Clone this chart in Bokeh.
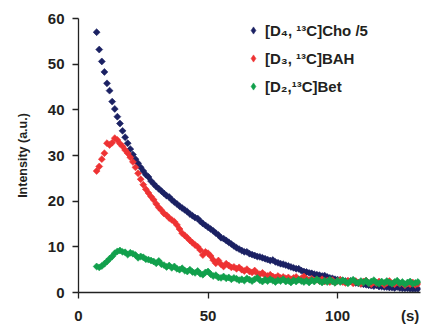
from bokeh.plotting import figure
from bokeh.models import Range1d, FixedTicker, Legend, LegendItem, LinearAxis, Title
from bokeh.embed import file_html
from bokeh.resources import INLINE
import math

# ---- data ----
time_s = list(range(7, 132))

cho_div5 = [
    57.0, 53.2, 50.6, 48.3, 45.8, 44.2, 41.8, 40.2, 38.5, 37.0,
    35.4, 34.0, 32.7, 31.4, 30.2, 29.2, 28.3, 27.4, 26.6, 25.8,
    25.3, 24.4, 23.8, 23.2, 22.7, 22.2, 21.7, 21.2, 20.9, 20.3,
    19.8, 19.4, 18.9, 18.5, 18.1, 17.7, 17.2, 16.8, 16.4, 16.2,
    15.6, 15.1, 14.7, 14.3, 13.9, 13.5, 13.0, 12.6, 12.0, 11.8,
    11.4, 11.0, 10.6, 10.2, 9.8, 9.5, 9.2, 8.9, 8.9, 8.5,
    8.3, 8.1, 7.9, 7.8, 7.6, 7.4, 7.2, 7.0, 7.1, 6.7,
    6.5, 6.3, 6.2, 6.0, 5.8, 5.6, 5.4, 5.2, 5.2, 4.8,
    4.6, 4.5, 4.3, 4.2, 4.0, 3.9, 3.8, 3.6, 3.7, 3.4,
    3.2, 3.1, 2.9, 2.8, 2.7, 2.6, 2.5, 2.4, 2.5, 2.2,
    2.1, 2.0, 1.9, 1.8, 1.7, 1.6, 1.5, 1.4, 1.6, 1.3,
    1.3, 1.2, 1.2, 1.1, 1.1, 1.0, 1.2, 1.0, 0.9, 0.9,
    0.9, 0.8, 0.8, 0.8, 0.8,
]

bah = [
    26.6, 27.6, 29.2, 30.5, 32.7, 32.3, 32.8, 33.8, 33.4, 32.6,
    32.0, 31.2, 30.5, 29.6, 28.6, 27.4, 26.1, 24.8, 23.6, 22.6,
    21.8, 21.0, 20.3, 19.4, 18.6, 18.0, 17.3, 16.9, 16.3, 15.9,
    15.5, 14.8, 13.9, 13.0, 12.5, 12.0, 11.4, 10.9, 10.4, 10.0,
    9.3, 8.2, 8.9, 8.6, 8.0, 7.1, 6.4, 7.0, 6.2, 5.7,
    6.3, 5.9, 5.5, 5.6, 5.2, 5.5, 5.0, 4.7, 5.1, 4.6,
    4.4, 4.8, 4.2, 4.0, 4.3, 3.8, 3.6, 3.9, 3.5, 3.3,
    3.6, 3.2, 3.4, 3.1, 3.3, 2.9, 3.2, 3.4, 2.9, 3.1,
    3.5, 3.0, 2.7, 3.0, 2.6, 2.8, 2.5, 2.9, 2.4, 2.6,
    2.3, 2.7, 2.2, 2.5, 2.8, 2.3, 2.1, 2.6, 2.4, 2.0,
    2.5, 2.2, 1.9, 2.4, 2.6, 2.1, 1.8, 2.3, 2.0, 2.4,
    2.2, 1.7, 2.1, 2.5, 2.0, 1.8, 2.3, 1.9, 2.1, 1.6,
    2.0, 1.8, 2.2, 1.7, 1.9,
]

bet = [
    5.7, 5.5, 5.8, 6.3, 6.8, 7.4, 7.9, 8.6, 9.0, 9.2,
    8.9, 8.8, 8.3, 8.7, 8.5, 8.2, 7.6, 7.9, 7.7, 7.3,
    7.2, 7.0, 6.8, 6.4, 6.9, 6.2, 6.0, 5.6, 5.9, 5.4,
    5.7, 5.2, 5.0, 5.3, 4.8, 4.6, 5.0, 4.5, 4.3, 4.7,
    4.1, 3.9, 4.4, 4.6, 4.0, 3.6, 3.8, 3.3, 3.2, 3.5,
    3.1, 3.3, 2.9, 3.2, 3.0, 2.7, 2.9, 2.6, 3.1, 2.8,
    2.5, 2.9, 3.2, 2.7, 2.4, 2.8, 2.5, 2.9, 2.6, 2.3,
    2.7, 2.5, 2.9, 2.4, 2.6, 2.2, 2.7, 2.4, 2.8, 2.5,
    2.3, 2.6, 2.2, 2.7, 2.4, 2.9, 2.5, 2.2, 2.6, 2.3,
    2.8, 2.4, 2.1, 2.6, 2.3, 2.7, 2.4, 2.0, 2.5, 2.8,
    2.3, 2.1, 2.5, 2.2, 2.6, 2.0, 2.4, 2.7, 2.2, 1.9,
    2.4, 2.1, 2.5, 2.2, 1.9, 2.3, 2.6, 2.0, 2.3, 1.8,
    2.2, 2.4, 1.9, 2.1, 2.3,
]

series_labels = ["[D\u2084, \u00b9\u00b3C]Cho /5", "[D\u2083, \u00b9\u00b3C]BAH", "[D\u2082,\u00b9\u00b3C]Bet"]
series_colors = ["#1b2163", "#ee3233", "#11a04c"]

x_ticks = [0, 50, 100]
x_unit_pos = 128
x_unit = "(s)"
y_ticks = [0, 10, 20, 30, 40, 50, 60]
y_title = "Intensity (a.u.)"

FONT = "Liberation Sans"
TXT = "#231f20"

p = figure(width=422, height=327, output_backend="svg", toolbar_location=None,
           x_range=Range1d(0, 132), y_range=Range1d(0, 60), x_axis_location=None,
           min_border_left=78, min_border_right=2, min_border_top=18, min_border_bottom=35)
p.outline_line_color = None
p.xgrid.visible = False
p.ygrid.visible = False
p.background_fill_color = "white"
p.border_fill_color = "white"


def style(ax):
    ax.axis_line_color = "#222222"
    ax.axis_line_width = 1.3
    ax.major_tick_line_color = "#222222"
    ax.major_tick_line_width = 1.3
    ax.major_tick_in = 0
    ax.major_tick_out = 6
    ax.minor_tick_line_color = None
    ax.major_label_text_font = FONT
    ax.major_label_text_font_style = "bold"
    ax.major_label_text_font_size = "15px"
    ax.major_label_text_color = TXT


# x axis: line, ticks and numeric labels
xa = LinearAxis(ticker=FixedTicker(ticks=x_ticks))
style(xa)
xa.major_label_standoff = 12
p.add_layout(xa, "below")

# unit label "(s)" on the same row, with no line or tick of its own
xl = LinearAxis(ticker=FixedTicker(ticks=[x_unit_pos]),
                major_label_overrides={x_unit_pos: x_unit})
style(xl)
xl.axis_line_color = None
xl.major_tick_line_color = None
xl.major_tick_out = 0
xl.major_label_standoff = -17
p.add_layout(xl, "below")

style(p.yaxis[0])
p.yaxis.ticker = FixedTicker(ticks=y_ticks)
p.yaxis.major_label_standoff = 8

legend_items = []
for vals, col, lab in zip([cho_div5, bah, bet], series_colors, series_labels):
    p.scatter(time_s, vals, marker="square", angle=math.pi / 4, size=4.9,
              fill_color=col, line_color=col, line_width=0.6)
    # hidden key renderer (first point only) that gives the legend a diamond key
    key = p.scatter(time_s[:1], vals[:1], marker="diamond", size=5,
                    fill_color=col, line_color=col, line_width=0.6, visible=False)
    legend_items.append(LegendItem(label=lab, renderers=[key]))

legend = Legend(items=legend_items,
                location=(166, 196), padding=0, spacing=8, margin=0,
                label_height=20, glyph_height=18, glyph_width=18, label_standoff=3,
                label_text_font=FONT, label_text_font_style="bold", label_text_font_size="15px",
                label_text_color=TXT, background_fill_alpha=0, border_line_color=None,
                inactive_fill_alpha=0)
p.add_layout(legend)

p.add_layout(Title(text=y_title, align="center", offset=13, standoff=26, vertical_align="top",
                   text_font=FONT, text_font_style="bold", text_font_size="12.5px",
                   text_color=TXT), "left")

open("out.html", "w").write(file_html(p, INLINE))
